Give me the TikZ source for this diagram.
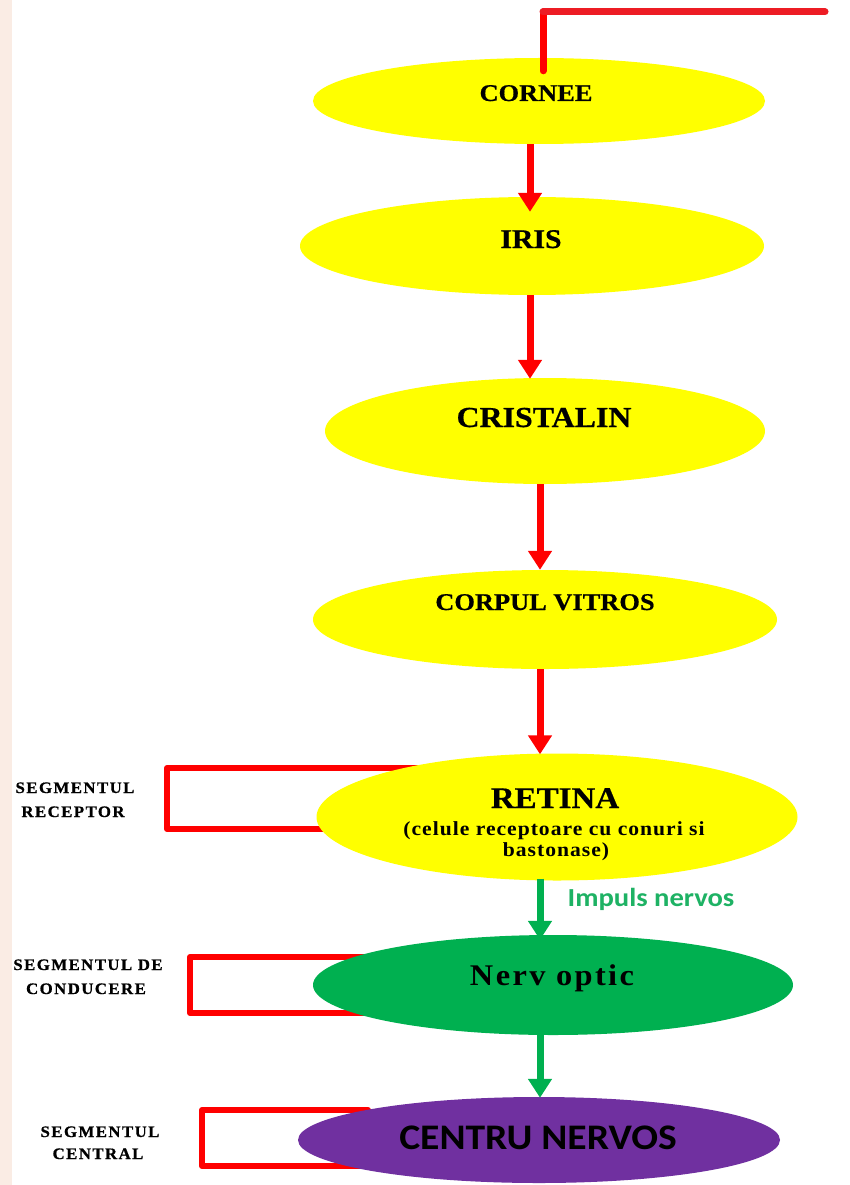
\documentclass[tikz,border=0pt]{standalone}
\usepackage{fontspec}
\setmainfont{Liberation Serif}
\newfontfamily\capsfont[FakeStretch=1.1,FakeBold=0.6]{Liberation Serif}
\newfontfamily\smallfont[FakeStretch=1.08,LetterSpace=5]{Liberation Serif}
\newfontfamily\nervfont[FakeStretch=1.08,LetterSpace=8]{Liberation Serif}
\newfontfamily\lblfont[FakeStretch=1.05,LetterSpace=9,FakeBold=0.8]{Liberation Serif}
\newfontfamily\sansfont[FakeStretch=1.1]{Carlito}
\usetikzlibrary{shapes.geometric,arrows.meta,calc}
\pgfdeclarelayer{paper}
\pgfdeclarelayer{behind}
\pgfsetlayers{paper,behind,main}
\definecolor{eyeyellow}{RGB}{255,255,0}
\definecolor{nervgreen}{RGB}{0,176,80}
\definecolor{centrupurple}{RGB}{112,48,160}
\definecolor{linered}{RGB}{255,0,0}
\definecolor{topred}{RGB}{237,28,36}
\definecolor{stripcol}{RGB}{250,236,228}
\definecolor{impulsgreen}{RGB}{30,178,100}
\newcommand{\setfs}[1]{\fontsize{#1}{#1}\selectfont}
\begin{document}
\begin{tikzpicture}[x=1pt,y=-1pt,
  organ/.style={ellipse, inner sep=0pt, draw=none},
  title/.style={anchor=base, inner sep=0pt, text=black},
  seglbl/.style={anchor=base, inner sep=0pt, text=black, font=\lblfont\bfseries\setfs{16}},
  flowred/.style={draw=linered, line width=7pt, -{Triangle[width=23pt,length=19pt]}},
  flowgreen/.style={draw=nervgreen, line width=7pt, -{Triangle[width=23pt,length=19pt]}},
  bracket/.style={draw=linered, line width=6pt, line join=round, line cap=round}
]
\clip (0,0) rectangle (850,1185);
\begin{pgfonlayer}{paper}
\fill[white] (0,0) rectangle (850,1185);
\end{pgfonlayer}

% organs
\node[organ, fill=eyeyellow, minimum width=452pt, minimum height=86pt] (cornee) at (539,101) {};
\node[organ, fill=eyeyellow, minimum width=464pt, minimum height=98pt] (iris) at (532,246) {};
\node[organ, fill=eyeyellow, minimum width=440pt, minimum height=106pt] (cristalin) at (545,431) {};
\node[organ, fill=eyeyellow, minimum width=464pt, minimum height=99pt] (corpul) at (545,619.5) {};
\node[organ, fill=eyeyellow, minimum width=481pt, minimum height=127pt] (retina) at (557,817) {};
\node[organ, fill=nervgreen, minimum width=480pt, minimum height=100pt] (nerv) at (553,985) {};
\node[organ, fill=centrupurple, minimum width=482pt, minimum height=86pt] (centru) at (539,1140) {};

% texts
\node[title, font=\capsfont\bfseries\setfs{24}] (corneeT) at (536,101) {CORNEE};
\node[title, font=\capsfont\bfseries\setfs{27}] (irisT) at (531,248) {IRIS};
\node[title, font=\capsfont\bfseries\setfs{29}] (cristalinT) at (544,427) {CRISTALIN};
\node[title, font=\capsfont\bfseries\setfs{24}] (corpulT) at (545,610) {CORPUL VITROS};
\node[title, font=\capsfont\bfseries\setfs{30}] (retinaT) at (555,808) {RETINA};
\node[title, font=\smallfont\bfseries\setfs{20}] (retinaS1) at (554,835) {(celule receptoare cu conuri si};
\node[title, font=\smallfont\bfseries\setfs{20}] (retinaS2) at (556,856) {bastonase)};
\node[title, font=\nervfont\bfseries\setfs{30}] (nervT) at (552,985) {Nerv optic};
\node[title, font=\sansfont\bfseries\setfs{36}] (centruT) at (538,1149) {CENTRU NERVOS};
\node[title, text=impulsgreen, font=\sansfont\bfseries\setfs{26}] (impuls) at (651,906) {Impuls nervos};

% flow arrows
\draw[flowred] ([xshift=-9pt]cornee.south) -- ([xshift=-2pt,yshift=-15pt]iris.north);
\draw[flowred] ([xshift=-2pt]iris.south) -- ([xshift=-15pt,yshift=-1pt]cristalin.north);
\draw[flowred] ([xshift=-5pt]cristalin.south) -- ([xshift=-5pt]corpul.north);
\draw[flowred] ([xshift=-5pt]corpul.south) -- ([xshift=-17pt,yshift=-1pt]retina.north);
\draw[flowgreen] ([xshift=-17pt,yshift=2pt]retina.south) -- ([xshift=-13pt,yshift=-5pt]nerv.north);
\draw[flowgreen] ([xshift=-13pt]nerv.south) -- ([xshift=1pt,yshift=-1pt]centru.north);

% top line from cornee
\coordinate (topcorner) at (543,12);
\coordinate (topend) at (825,12);
\draw[draw=linered, line width=7pt, line cap=round] ([xshift=4pt,yshift=-13pt]cornee.north) -- (topcorner);
\draw[draw=topred, line width=7pt, line cap=round] (topcorner) -- (topend);

% segment brackets (behind organs)
\begin{pgfonlayer}{behind}
\draw[bracket] ([xshift=-140pt,yshift=49pt]retina.center) -- ++(-250,0) -- ++(0,61) -- ++(240,0);
\draw[bracket] ([xshift=-180pt,yshift=28pt]nerv.center) -- ++(-183,0) -- ++(0,56) -- ++(182,0);
\draw[bracket] ([xshift=-171pt,yshift=30pt]centru.center) -- ++(-166,0) -- ++(0,56) -- ++(158,0);
\end{pgfonlayer}

% segment labels
\node[seglbl] (recep1) at (75,793) {SEGMENTUL};
\node[seglbl] (recep2) at (73,817) {RECEPTOR};
\node[seglbl] (cond1) at (88,970) {SEGMENTUL DE};
\node[seglbl] (cond2) at (86,994) {CONDUCERE};
\node[seglbl] (centr1) at (100,1137) {SEGMENTUL};
\node[seglbl] (centr2) at (98,1159) {CENTRAL};

% left strip
\fill[stripcol] (0,0) rectangle (12,1185);
\end{tikzpicture}
\end{document}
